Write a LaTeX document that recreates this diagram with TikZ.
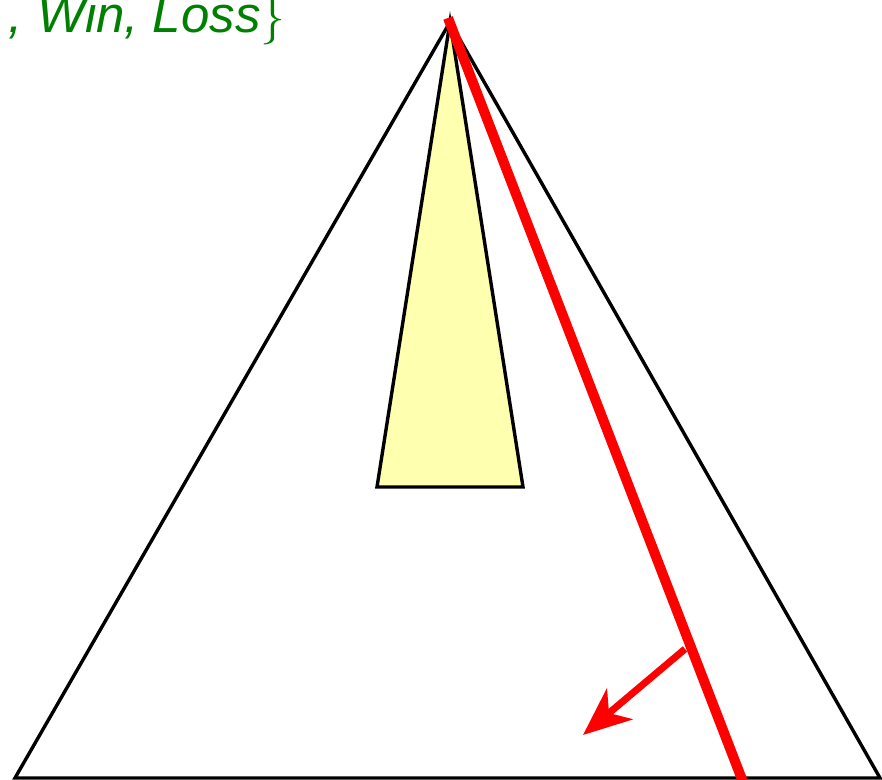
\documentclass[tikz,border=0pt]{standalone}
\usepackage{fontspec}
\setmainfont{Liberation Sans}
\usepackage{xcolor}
\usetikzlibrary{
	arrows.meta,
	calc
}
\definecolor{DarkGreen}{RGB}{0,128,0}
\definecolor{PaleYellow}{RGB}{255,255,176}
\definecolor{PureRed}{RGB}{255,0,0}

\begin{document}
\begin{tikzpicture}[x=0.5pt, y=0.5pt, line join=miter]
			\useasboundingbox (0,0) rectangle (882,780);
			
			% big triangle
			\coordinate (apex) at (450,758);
			\coordinate (BL) at (15,2);
			\coordinate (BR) at (880,2);
			\draw[line width=1.7pt] (BL) -- (apex) -- (BR) -- cycle;
			
			% narrow yellow cone
			\coordinate (YL) at (377,293);
			\coordinate (YR) at (523,293);
			\filldraw[fill=PaleYellow, line width=1.7pt] (apex) -- (YL) -- (YR) -- cycle;
			
			% red cut line and its normal
			\coordinate (R0) at (448,762);
			\coordinate (R1) at (743,-2);
			\draw[PureRed, line width=5pt] (R0) -- (R1);
			\coordinate (N0) at (685,131);
			\coordinate (N1) at (583,45);
			\draw[PureRed, line width=3.5pt, -{Stealth[length=24pt, width=20pt, inset=7pt]}] (N0) -- (N1);
			
			\node[DarkGreen, anchor=base east, inner sep=0pt, font=\fontsize{25.5}{30}\selectfont\itshape] (outcomes) at (286,747) {, Win, Loss$\}$};
		\end{tikzpicture}
\end{document}
